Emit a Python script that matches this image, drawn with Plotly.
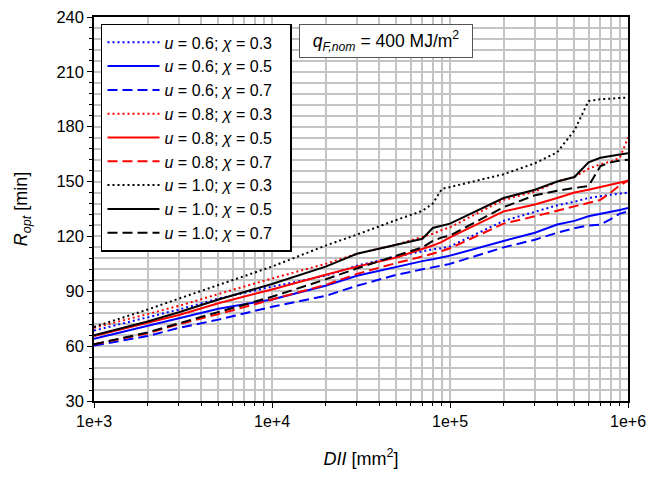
import plotly.graph_objects as go

# Fire load area DII [mm^2]
dii = [1e3, 2e3, 3e3, 5e3, 1e4, 2e4, 3e4, 5e4, 7e4, 8e4, 9e4, 1e5,
       2e5, 3e5, 4e5, 5e5, 6e5, 7e5, 8e5, 9e5, 1e6]

# R_opt [min] for each (u, chi)
r_u06_c03 = [68.5, 75.5, 80, 86, 92.5, 98.5, 104, 109, 112, 113, 113.5, 114.5,
             128.5, 133.5, 137, 139, 141, 142, 143, 143.5, 144]
r_u06_c05 = [64, 71, 75.5, 80.5, 85.5, 93, 98.5, 103.5, 106.5, 107.5, 108.5, 109.5,
             117.5, 122, 126.5, 128.5, 131, 132.5, 133.5, 134.5, 135.5]
r_u06_c07 = [60.3, 65.5, 70, 74.5, 81.5, 87.5, 93, 99, 102, 103, 104, 105,
             114, 118.2, 122, 124.5, 126, 126.5, 129.5, 132.5, 133.7]
r_u08_c03 = [70, 77.5, 82, 88.5, 97, 105, 110.5, 115.5, 119.5, 121.5, 123.5, 125,
             140, 144.5, 150, 152.5, 157, 159.5, 161, 163, 174]
r_u08_c05 = [65.5, 72.5, 77, 83.5, 91, 99, 103.5, 108.5, 113, 115, 117, 119.5,
             133.7, 137.5, 141, 144, 145.5, 147, 148.5, 149.5, 150.5]
r_u08_c07 = [61, 67, 72, 77.5, 85.5, 93.5, 99.5, 105.5, 109, 110.5, 112, 113.5,
             127, 131, 134, 136.5, 138.5, 140, 144, 148, 150.5]
r_u10_c03 = [70.5, 80, 86, 93.5, 103.5, 115, 121, 129, 134, 138, 146, 147,
             154, 160, 166, 178, 194, 195, 195.5, 195.8, 196]
r_u10_c05 = [66, 73.5, 78.5, 85.5, 94, 103.5, 110.5, 115.5, 118.7, 124.6, 126, 127,
             141, 145.5, 150, 152.5, 160.5, 163, 164, 165, 165.5]
r_u10_c07 = [61, 67.5, 72.5, 78.5, 87, 96.5, 102.5, 109.5, 114, 117.5, 119.5, 120.5,
             136, 142.5, 145, 146.5, 147.5, 158.5, 160.5, 161.5, 162]

series = [
    ("0.6", "0.3", r_u06_c03, "#0000ff", "2px,3px"),
    ("0.6", "0.5", r_u06_c05, "#0000ff", "solid"),
    ("0.6", "0.7", r_u06_c07, "#0000ff", "10px,5px"),
    ("0.8", "0.3", r_u08_c03, "#ff0000", "2px,3px"),
    ("0.8", "0.5", r_u08_c05, "#ff0000", "solid"),
    ("0.8", "0.7", r_u08_c07, "#ff0000", "10px,5px"),
    ("1.0", "0.3", r_u10_c03, "#000000", "2px,3px"),
    ("1.0", "0.5", r_u10_c05, "#000000", "solid"),
    ("1.0", "0.7", r_u10_c07, "#000000", "10px,5px"),
]

x_tickvals = [1e3, 1e4, 1e5, 1e6]
x_ticktext = ["1e+3", "1e+4", "1e+5", "1e+6"]
x_minor = [m * d for d in (1e3, 1e4, 1e5) for m in range(2, 10)]
y_tickvals = [30, 60, 90, 120, 150, 180, 210, 240]

FONT = "Liberation Sans, Arial, sans-serif"
PAD = "\u00a0\u00a0\u00a0"

fig = go.Figure()
for u, chi, vals, color, dash in series:
    fig.add_trace(go.Scatter(
        x=dii, y=vals, mode="lines",
        name=f"<i>u</i> = {u}; <i>χ</i> = {chi}{PAD}",
        line=dict(color=color, width=2, dash=dash),
    ))

fig.update_layout(
    width=650, height=477,
    margin=dict(l=94, r=22, t=17, b=76, autoexpand=False),
    paper_bgcolor="white", plot_bgcolor="white",
    font=dict(family=FONT, size=16, color="black"),
    showlegend=True,
    legend=dict(
        x=0.0131, y=0.982, xanchor="left", yanchor="top",
        bgcolor="white", bordercolor="black", borderwidth=1.5,
        font=dict(size=16, family=FONT),
        itemwidth=52, tracegroupgap=0,
    ),
    xaxis=dict(
        type="log", range=[3, 6], automargin=False,
        tickvals=x_tickvals, ticktext=x_ticktext,
        ticks="outside", ticklen=5, tickcolor="black", tickwidth=1,
        showline=True, linecolor="black", linewidth=1.5, mirror=True,
        showgrid=True, gridcolor="#c4c4c4", gridwidth=1.5,
        minor=dict(tickvals=x_minor, ticks="outside", ticklen=3,
                   tickcolor="black", showgrid=True,
                   gridcolor="#c4c4c4", gridwidth=1.5),
        tickfont=dict(size=16),
        title=dict(text="<i>DII</i> [mm<sup>2</sup>]", font=dict(size=18), standoff=23),
        zeroline=False,
    ),
    yaxis=dict(
        range=[30, 240], automargin=False,
        tickvals=y_tickvals,
        ticks="outside", ticklen=5, tickcolor="black", tickwidth=1,
        showline=True, linecolor="black", linewidth=1.5, mirror=True,
        showgrid=True, gridcolor="#c4c4c4", gridwidth=1.5,
        minor=dict(dtick=6, tick0=30, ticks="outside", ticklen=3,
                   tickcolor="black", showgrid=True,
                   gridcolor="#c4c4c4", gridwidth=1.5),
        tickfont=dict(size=16.5),
        title=dict(text="<i>R<sub>opt</sub></i> [min]", font=dict(size=18), standoff=24),
        zeroline=False,
    ),
)

fig.add_annotation(
    xref="paper", yref="paper", x=0.3835, y=0.982,
    xanchor="left", yanchor="top",
    text="<i>q<sub>F,nom</sub></i> = 400 MJ/m<sup>2</sup>",
    showarrow=False, font=dict(size=17.5, family=FONT),
    bgcolor="white", bordercolor="#555555", borderwidth=1,
    width=170, height=30, align="center",
)

fig.write_html("out.html")
